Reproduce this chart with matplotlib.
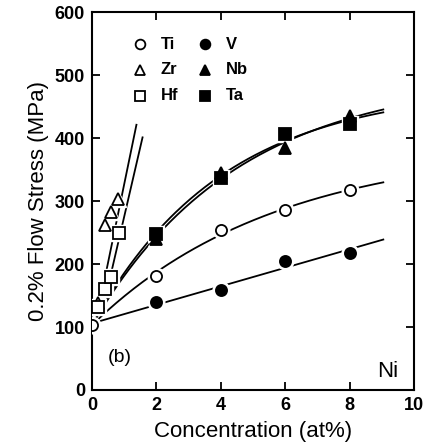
import numpy as np
import matplotlib
matplotlib.use("Agg")
import matplotlib.pyplot as plt

plt.rcParams['font.family'] = ['Liberation Sans', 'DejaVu Sans']

# pure Ni
base_x = 0.0
base_y = 103

# group IVa solutes (steep)
zr_x = [0.2, 0.4, 0.6, 0.8]
zr_y = [138, 262, 282, 303]
hf_x = [0.2, 0.4, 0.6, 0.83]
hf_y = [132, 161, 180, 250]
# drawn trend lines for Zr / Hf
zr_line_x = [0.34, 1.38]
zr_line_y = [163, 421]
hf_line_x = [0.46, 1.57]
hf_line_y = [156, 401]

# other solutes
conc = [2, 4, 6, 8]
ti_y = [181, 254, 285, 318]
v_y = [140, 158, 204, 218]
nb_y = [240, 344, 384, 435]
ta_y = [247, 337, 407, 422]

xticks = [0, 2, 4, 6, 8, 10]
yticks = [0, 100, 200, 300, 400, 500, 600]

fig = plt.figure(figsize=(4.28, 4.45), dpi=100)
ax = fig.add_axes([0.215, 0.1236, 0.752, 0.8494])


def sat_fit(xs, ys, x_end=9.05, x_start=0.08):
    # y = base + A*(1 - exp(-x/c)), c by grid search, A by least squares
    xs = np.asarray(xs, float)
    dy = np.asarray(ys, float) - base_y
    best = None
    for c in np.linspace(1, 60, 600):
        g = 1 - np.exp(-xs / c)
        A = g @ dy / (g @ g)
        err = np.sum((A * g - dy) ** 2)
        if best is None or err < best[0]:
            best = (err, A, c)
    _, A, c = best
    xx = np.linspace(x_start, x_end, 200)
    return xx, base_y + A * (1 - np.exp(-xx / c))


def lin_fit(xs, ys, x_end=9.05, x_start=0.08):
    p = np.polyfit(np.r_[base_x, xs], np.r_[base_y, ys], 1)
    xx = np.linspace(x_start, x_end, 50)
    return xx, np.polyval(p, xx)


ax.plot(zr_line_x, zr_line_y, color='black', lw=1.3, zorder=2)
ax.plot(hf_line_x, hf_line_y, color='black', lw=1.3, zorder=2)

for xx, yy in [sat_fit(conc, ti_y), lin_fit(conc, v_y),
               sat_fit(conc, nb_y), sat_fit(conc, ta_y)]:
    ax.plot(xx, yy, color='black', lw=1.3, zorder=2)

ms = 8


def markers(xs, ys, m, filled):
    # white halo so lines break at the markers
    ax.plot(xs, ys, ls='none', marker=m, ms=ms + 4, mfc='white', mec='white', zorder=3)
    ax.plot(xs, ys, ls='none', marker=m, ms=ms, mfc='black' if filled else 'white',
            mec='black', mew=1.3, zorder=4)


markers([base_x], [base_y], 'o', False)
markers(zr_x, zr_y, '^', False)
markers(hf_x, hf_y, 's', False)
markers(conc, ti_y, 'o', False)
markers(conc, v_y, 'o', True)
markers(conc, nb_y, '^', True)
markers(conc, ta_y, 's', True)

# hand-made key
key = [('o', False, 'Ti', 0.149, 0.915), ('o', True, 'V', 0.351, 0.915),
       ('^', False, 'Zr', 0.149, 0.847), ('^', True, 'Nb', 0.351, 0.847),
       ('s', False, 'Hf', 0.149, 0.778), ('s', True, 'Ta', 0.351, 0.778)]
for m, filled, name, kx, ky in key:
    ax.plot([kx], [ky], transform=ax.transAxes, ls='none', marker=m, ms=7,
            mfc='black' if filled else 'white', mec='black', mew=1.3)
    ax.text(kx + 0.065, ky, name, transform=ax.transAxes, va='center', ha='left',
            fontsize=12, fontweight='bold')

ax.text(0.05, 0.087, '(b)', transform=ax.transAxes, fontsize=14, va='center')
ax.text(0.95, 0.05, 'Ni', transform=ax.transAxes, fontsize=16, ha='right', va='center')

ax.set_xlim(0, 10)
ax.set_ylim(0, 600)
ax.set_xticks(xticks)
ax.set_yticks(yticks)
ax.tick_params(direction='in', length=6, width=1.3, top=True, right=True,
               labelsize=13, pad=5)
for lab in ax.get_xticklabels() + ax.get_yticklabels():
    lab.set_fontweight('bold')
for sp in ax.spines.values():
    sp.set_linewidth(1.5)

ax.set_xlabel('Concentration (at%)', fontsize=16, labelpad=5)
ax.set_ylabel('0.2% Flow Stress (MPa)', fontsize=16, labelpad=4)

fig.savefig('out.png', dpi=100)
